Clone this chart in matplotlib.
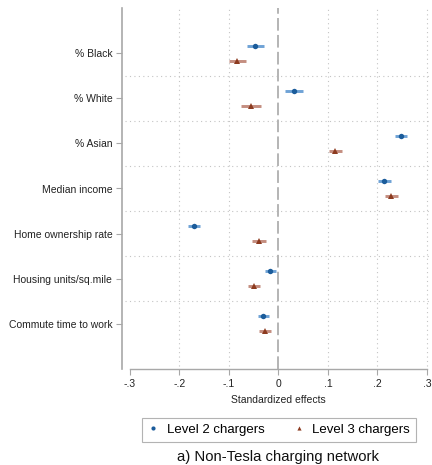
import numpy as np
import matplotlib
matplotlib.use("Agg")
import matplotlib.pyplot as plt
from matplotlib.lines import Line2D

plt.rcParams["font.family"] = ["Liberation Sans", "DejaVu Sans"]

# Covariates and standardized effect estimates with 95% confidence bounds
labels = ["% Black", "% White", "% Asian", "Median income",
          "Home ownership rate", "Housing units/sq.mile", "Commute time to work"]

l2_est = [-0.047, 0.032, 0.247, 0.214, -0.170, -0.017, -0.032]
l2_lo = [-0.063, 0.013, 0.236, 0.202, -0.183, -0.027, -0.042]
l2_hi = [-0.030, 0.050, 0.260, 0.227, -0.158, -0.005, -0.020]

l3_est = [-0.083, -0.056, 0.115, 0.228, -0.040, -0.049, -0.028]
l3_lo = [-0.100, -0.075, 0.102, 0.216, -0.053, -0.062, -0.040]
l3_hi = [-0.065, -0.035, 0.129, 0.242, -0.026, -0.037, -0.015]

xticks = [-0.3, -0.2, -0.1, 0.0, 0.1, 0.2, 0.3]
xtick_labels = ["-.3", "-.2", "-.1", "0", ".1", ".2", ".3"]

series = [
    ("Level 2 chargers", l2_est, l2_lo, l2_hi, "o", "#1b5c9b", "#6fa3d6", -0.165),
    ("Level 3 chargers", l3_est, l3_lo, l3_hi, "^", "#8c3a1f", "#c48e80", 0.165),
]

fig = plt.figure(figsize=(4.32, 4.65), dpi=100)
ax = fig.add_axes([122 / 432, 1 - 369 / 465, 308 / 432, 361 / 465])

xmin, xmax = -0.3 - 8 / 495, 0.3 + 3 / 495
ax.set_xlim(xmin, xmax)
ax.set_ylim(7, -1)

grid_kw = dict(color="#c4c4c4", linewidth=0.8, linestyle=(0, (1, 3)), zorder=0)
pos = np.arange(len(labels))
ax.hlines(pos[:-1] + 0.5, -0.3 - 5 / 495, xmax, **grid_kw)
for xv in xticks:
    if xv in (-0.3, 0.0):
        continue
    ax.vlines(xv, 6.93, -1, **grid_kw)

ax.axvline(0, color="#b4b4b4", linewidth=1.4, dashes=(6.5, 2.2), zorder=1)

for name, est, lo, hi, mk, col, cicol, off in series:
    est = np.asarray(est)
    y = pos + off
    ax.hlines(y, lo, hi, color=cicol, linewidth=2.1, zorder=2)
    ax.plot(est, y, linestyle="none", marker=mk, markersize=3.9,
            color=col, markeredgewidth=0, zorder=3)

ax.set_yticks(pos)
ax.set_yticklabels(labels, fontsize=7.5, color="#222222")
ax.set_xticks(xticks)
ax.set_xticklabels(xtick_labels, fontsize=7.5, color="#222222")

spine_col = "#a8a8a8"
for s in ("top", "right"):
    ax.spines[s].set_visible(False)
ax.spines["left"].set_color(spine_col)
ax.spines["left"].set_linewidth(1.2)
ax.spines["bottom"].set_color(spine_col)
ax.spines["bottom"].set_linewidth(1.0)
ax.spines["bottom"].set_bounds(-0.3, 0.3)
ax.tick_params(axis="y", length=4, width=0.8, color=spine_col, pad=3)
ax.tick_params(axis="x", length=4, width=0.8, color=spine_col, pad=3)

fig.text(278.8 / 432, 1 - 400 / 465, "Standardized effects", fontsize=7.5,
         ha="center", va="center", color="#222222")

handles = [
    Line2D([], [], linestyle="none", marker="o", markersize=3.0,
           color="#1b5c9b", markeredgewidth=0),
    Line2D([], [], linestyle="none", marker="^", markersize=3.0,
           color="#8c3a1f", markeredgewidth=0),
]
leg = fig.legend(handles, [s[0] for s in series], loc="center",
                 bbox_to_anchor=(278.9 / 432, 1 - 429.7 / 465), ncol=2,
                 fontsize=9.5, frameon=True, fancybox=False,
                 edgecolor="#a0a0a0", handlelength=0.8, handletextpad=0.6,
                 columnspacing=2.2, borderpad=0.45)
leg.get_frame().set_linewidth(0.8)

fig.text(278 / 432, 1 - 456.7 / 465, "a) Non-Tesla charging network",
         fontsize=10.7, ha="center", va="center", color="#111111")

fig.savefig("out.png", dpi=100)
